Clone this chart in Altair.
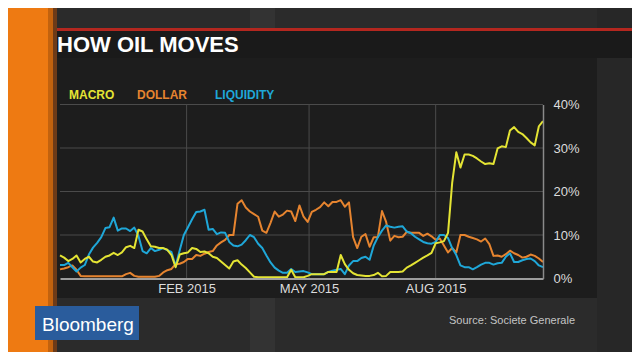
import altair as alt
import pandas as pd

# ---------------- data ----------------
series_names = ["MACRO", "DOLLAR", "LIQUIDITY"]
series_colors = ["#e4e434", "#e6842f", "#1fa7d8"]
start_date = "2014-11-01"   # one reading every 3 days
step = "3D"

macro = [5.3, 4.8, 4.0, 4.5, 5.3, 3.7, 4.5, 5.0, 3.9, 3.7,
         4.3, 5.0, 5.3, 5.9, 5.4, 6.0, 7.2, 7.5, 7.0, 11.2,
         10.8, 9.0, 7.4, 7.3, 7.0, 7.0, 6.6, 5.4, 2.6, 5.5,
         5.8, 6.0, 7.0, 6.8, 6.1, 6.2, 5.8, 5.0, 4.7, 3.9,
         3.1, 2.3, 3.9, 4.2, 3.2, 2.4, 1.4, 0.4, 0.3, 0.3,
         0.3, 0.3, 0.3, 0.3, 0.3, 0.3, 2.0, 0.3, 0.3, 0.3,
         0.6, 1.0, 1.0, 1.0, 1.0, 1.5, 1.5, 1.5, 5.4, 3.3,
         2.0, 1.2, 0.8, 0.7, 0.6, 0.6, 0.8, 1.3, 0.5, 0.6,
         1.5, 1.5, 1.5, 1.6, 2.5, 3.0, 3.6, 4.2, 4.8, 5.3,
         5.9, 8.1, 8.3, 8.6, 10.5, 22.0, 29.0, 25.5, 28.5, 28.5,
         28.2, 27.6, 26.9, 26.3, 26.5, 26.3, 29.9, 30.4, 30.2, 34.0,
         34.8, 33.7, 33.2, 32.3, 31.3, 30.6, 35.0, 36.2]

dollar = [2.1, 2.3, 2.6, 3.0, 2.0, 0.6, 0.5, 0.5, 0.5, 0.5,
          0.5, 0.5, 0.5, 0.5, 0.5, 0.5, 1.0, 1.3, 0.6, 0.4,
          0.4, 0.4, 0.4, 0.4, 0.6, 1.4, 1.9, 2.2, 3.3, 3.4,
          3.8, 4.5, 4.5, 5.4, 5.2, 5.7, 6.1, 6.3, 7.6, 8.3,
          8.9, 10.0, 10.0, 17.2, 18.0, 16.3, 15.4, 14.8, 14.2, 11.0,
          10.5, 12.8, 15.4, 14.2, 14.7, 15.6, 15.4, 13.2, 16.8, 14.2,
          13.0, 15.3, 15.8, 16.4, 17.5, 16.6, 17.6, 17.6, 18.0, 16.5,
          17.5, 9.5, 7.0, 9.6, 10.2, 7.3, 9.5, 9.5, 15.5, 13.0,
          8.7, 9.8, 9.5, 9.6, 10.7, 10.5, 10.5, 10.5, 9.8, 10.3,
          9.7, 8.9, 9.2, 7.6, 6.0, 7.0, 6.0, 10.0, 10.0, 9.6,
          9.3, 9.0, 8.5, 9.2, 7.9, 5.2, 5.3, 5.0, 5.6, 6.4,
          5.8, 5.4, 4.8, 5.0, 5.5, 5.2, 4.6, 3.8]

liquidity = [3.1, 3.1, 3.6, 2.6, 1.6, 2.5, 3.1, 5.5, 7.1, 8.2,
             9.5, 11.6, 11.8, 14.0, 11.0, 11.5, 11.5, 10.9, 11.7, 9.8,
             6.3, 5.8, 7.0, 6.3, 6.6, 7.0, 6.5, 6.1, 2.8, 6.5,
             10.0, 11.8, 13.6, 15.3, 15.4, 15.8, 11.2, 11.4, 10.2, 10.6,
             10.5, 8.4, 7.6, 7.4, 7.8, 8.8, 10.0, 9.5, 8.0, 7.0,
             5.3, 3.7, 2.5, 1.8, 1.3, 1.3, 2.2, 1.5, 1.6, 1.7,
             1.4, 1.0, 1.0, 1.0, 1.0, 1.5, 1.8, 2.0, 2.2, 1.0,
             3.0, 4.0, 4.0, 4.7, 5.0, 4.3, 7.6, 9.5, 11.0, 12.2,
             11.9, 11.7, 11.9, 12.0, 10.8, 10.4, 9.6, 9.0, 8.4, 8.1,
             8.0, 8.4, 10.0, 10.0, 9.3, 7.0, 5.4, 3.0, 2.6, 2.6,
             2.1, 2.6, 3.2, 3.6, 3.6, 3.2, 3.5, 3.6, 5.0, 5.8,
             3.8, 3.8, 4.2, 4.5, 4.6, 4.0, 3.0, 2.6]

y_ticks = [0, 10, 20, 30, 40]
y_grid = [10, 20, 30, 40]
x_tick_dates = ["2015-02-01", "2015-05-01", "2015-08-01"]

# ---------------- build table ----------------
dates = pd.date_range(start_date, periods=len(macro), freq=step).strftime("%Y-%m-%d")
rows = []
for name, vals in [("DOLLAR", dollar), ("LIQUIDITY", liquidity), ("MACRO", macro)]:
    for d, v in zip(dates, vals):
        rows.append({"date": d, "series": name, "value": v})
df = pd.DataFrame(rows)

FONT = "Liberation Sans"

x_scale = alt.Scale(type="utc", nice=False,
                    domain=[alt.DateTime(year=2014, month=11, date=1, utc=True),
                            alt.DateTime(year=2015, month=10, date=18, utc=True)])
y_scale = alt.Scale(domain=[0, 40], nice=False, zero=True)

x_axis = alt.Axis(values=[alt.DateTime(year=2015, month=m, date=1, utc=True) for m in (2, 5, 8)],
                  labelExpr="upper(utcFormat(datum.value, '%b %Y'))",
                  grid=False, ticks=False, domain=True, domainColor="#9c9c9c",
                  domainWidth=2, labelColor="#dcdcdc", labelFontSize=13,
                  labelPadding=4, labelFlush=False, title=None, zindex=1,
                  labelFont=FONT)
y_axis = alt.Axis(orient="right", values=y_ticks, labelExpr="datum.value + '%'",
                  grid=False, ticks=False, domain=True, domainColor="#8a8a8a",
                  domainWidth=1.5, labelColor="#dcdcdc", labelFontSize=13,
                  labelPadding=10, labelFlush=False, title=None, zindex=1,
                  labelFont=FONT)

one = alt.Data(values=[{}])


def box(x1, x2, y1, y2, color):
    return alt.Chart(one).mark_rect(color=color).encode(
        x=alt.value(x1), x2=alt.value(x2), y=alt.value(y1), y2=alt.value(y2))


def label(txt, x, y, size, color, weight="normal", align="left"):
    return alt.Chart(one).mark_text(
        text=txt, fontSize=size, color=color, fontWeight=weight, align=align,
        baseline="alphabetic", font=FONT).encode(x=alt.value(x), y=alt.value(y))


# decoration (positions relative to the plot area's top-left corner)
decor = [
    box(190, 215, -110, 260, "#333333"),          # light vertical band
    box(-5, 537, -46.5, 193.5, "#1d1d1d"),        # chart panel
    box(537, 590, -104.5, 260, "#272727"),        # right side
    box(-5, 590, -76.5, -73.5, "#b4271f"),        # red line
    box(-5, 590, -73.5, -46.5, "#1a1a1a"),        # title bar
    box(-60, -12, -110, 260, "#ee7a12"),          # orange side bar
    box(-12, -7, -110, 260, "#c2620e"),
    box(-7, -3, -110, 260, "#6e3b18"),
    label("HOW OIL MOVES", -3, -52.5, 22, "#ffffff", "bold"),
    label("MACRO", 9, -5.5, 12, series_colors[0], "bold"),
    label("DOLLAR", 77, -5.5, 12, series_colors[1], "bold"),
    label("LIQUIDITY", 155, -5.5, 12, series_colors[2], "bold"),
    box(-25, 79, 201.5, 235.5, "#2a5c9c"),        # logo box
    label("Bloomberg", -18, 226.5, 19, "#ffffff"),
    label("Source: Societe Generale", 515, 219.5, 11, "#c4c4c4", align="right"),
]

hgrid = alt.Chart(pd.DataFrame({"value": y_grid})).mark_rule(
    color="#4b4b4b", strokeWidth=1).encode(y=alt.Y("value:Q", scale=y_scale, axis=y_axis))
vgrid = alt.Chart(pd.DataFrame({"date": x_tick_dates})).mark_rule(
    color="#4b4b4b", strokeWidth=1).encode(x=alt.X("date:T", scale=x_scale, axis=x_axis))

lines = alt.Chart(df).mark_line(strokeWidth=2, strokeJoin="round").encode(
    x=alt.X("date:T", scale=x_scale, axis=x_axis),
    y=alt.Y("value:Q", scale=y_scale, axis=y_axis),
    color=alt.Color("series:N", scale=alt.Scale(domain=series_names, range=series_colors),
                    legend=None),
)

chart = alt.layer(*decor, hgrid, vgrid, lines).properties(
    width=483, height=174, autosize="none",
    padding={"left": 52, "top": 96.5, "right": 89, "bottom": 73.5},
).configure(background="#2b2b2b", font=FONT).configure_view(stroke=None)

chart.save("out.html", embed_options={"renderer": "svg", "actions": False})
